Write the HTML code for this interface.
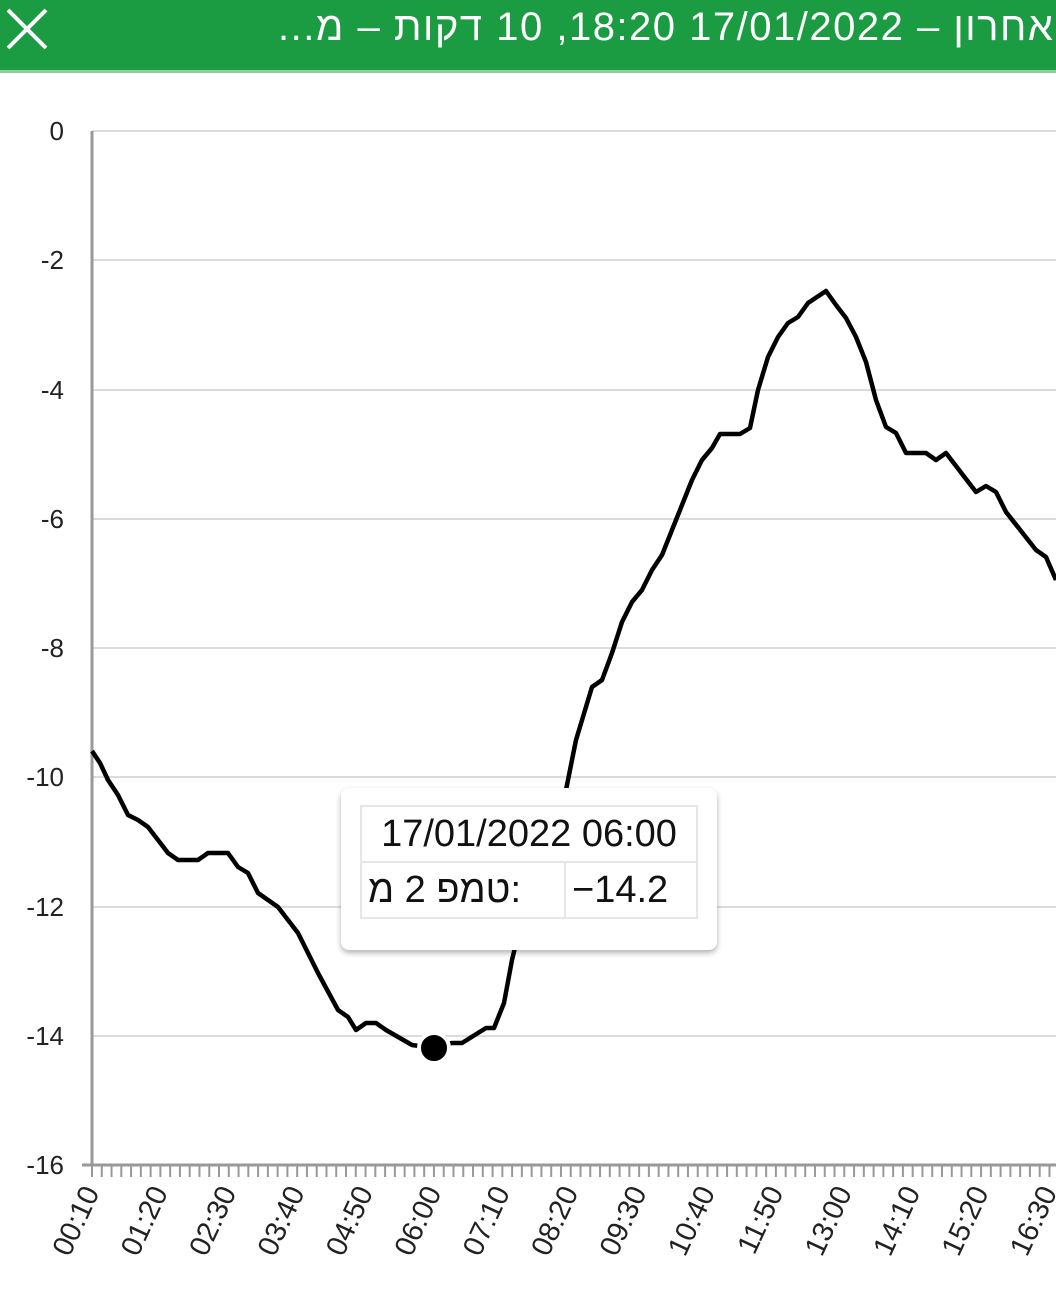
<!DOCTYPE html>
<html><head><meta charset="utf-8"><style>
body{margin:0;width:1056px;height:1313px;overflow:hidden;background:#fff;font-family:"Liberation Sans","DejaVu Sans",sans-serif}
.hdr{position:absolute;left:0;top:0;width:1056px;height:70px;background:#1b9b42;border-bottom:3px solid #8fd0a0;overflow:hidden}
.ttl{position:absolute;left:278px;top:5px;color:#fff;font-size:40px;letter-spacing:1.5px;white-space:nowrap;direction:ltr}
.ttl span{unicode-bidi:isolate}
.tip{position:absolute;left:341px;top:788px;width:376px;height:162px;background:#fff;border-radius:8px;box-shadow:0 3px 6px rgba(0,0,0,.3)}
table{position:absolute;left:19px;top:17px;border-collapse:collapse;font-size:38px;color:#111}
td{border:2px solid #e6e6e6;padding:0 6px;height:54px}
</style></head><body>
<div class="hdr">
<svg style="position:absolute;left:4px;top:6px" width="46" height="46"><path d="M4 4L42 42M42 4L4 42" stroke="#fff" stroke-width="4"/></svg>
<div class="ttl"><span>...</span><span>מ</span><span> – </span><span>דקות</span><span dir="ltr"> 10 ,18:20 17/01/2022 – </span><span>אחרון</span></div>
</div>
<svg width="1056" height="1313" style="position:absolute;left:0;top:0">
<g stroke="#dcdcdc" stroke-width="2">
<line x1="92" y1="131" x2="1056" y2="131"/><line x1="92" y1="260" x2="1056" y2="260"/><line x1="92" y1="390" x2="1056" y2="390"/><line x1="92" y1="519" x2="1056" y2="519"/><line x1="92" y1="648" x2="1056" y2="648"/><line x1="92" y1="777" x2="1056" y2="777"/><line x1="92" y1="907" x2="1056" y2="907"/><line x1="92" y1="1036" x2="1056" y2="1036"/>
</g>
<g stroke="#999" stroke-width="3"><line x1="92" y1="131" x2="92" y2="1165"/><line x1="82" y1="1165" x2="1056" y2="1165"/></g>
<g stroke="#999" stroke-width="2" id="tk"></g>
<g font-size="26" fill="#222" text-anchor="end">
<text x="64" y="140">0</text><text x="64" y="269">-2</text><text x="64" y="399">-4</text><text x="64" y="528">-6</text><text x="64" y="657">-8</text><text x="64" y="786">-10</text><text x="64" y="916">-12</text><text x="64" y="1045">-14</text><text x="64" y="1174">-16</text>
</g>
<g id="xl" font-size="29" fill="#222" text-anchor="end"></g>
<polyline fill="none" stroke="#000" stroke-width="4.5" stroke-linejoin="round" points="92,751 100,763 108,780 118,795 128,815 138,820 148,827 158,840 168,853 178,860 198,860 208,853 228,853 238,867 248,873 258,893 278,907 298,933 318,973 338,1010 348,1017 356,1030 366,1023 376,1023 386,1030 412,1045 434,1048 452,1043 462,1043 486,1028 494,1028 504,1003 512,960 524,910 545,850 566,790 576,740 592,687 602,680 612,653 622,622 632,602 642,590 652,570 662,555 672,530 682,505 692,480 702,460 712,448 720,434 740,434 750,428 758,390 768,357 778,337 788,323 798,317 808,303 826,291 836,305 846,318 856,337 866,362 876,400 886,427 896,433 906,453 926,453 936,460 946,453 976,492 986,486 996,492 1006,512 1036,550 1046,557 1056,580"/>
<circle cx="434" cy="1048" r="15" fill="#000" stroke="#fff" stroke-width="4"/>
</svg>
<div class="tip"><table><tr><td colspan="2" style="text-align:center">17/01/2022 06:00</td></tr><tr><td style="width:190px">טמפ 2 מ:</td><td style="width:118px">−14.2</td></tr></table></div>
<script>
var tk=document.getElementById('tk'),xl=document.getElementById('xl'),s='';
for(var i=0;i<100;i++){var x=92+i*9.77;if(x>1056)break;s+='<line x1="'+x+'" y1="1165" x2="'+x+'" y2="1177"/>';}
tk.innerHTML=s;
var L=['00:10','01:20','02:30','03:40','04:50','06:00','07:10','08:20','09:30','10:40','11:50','13:00','14:10','15:20','16:30'],t='';
for(var j=0;j<L.length;j++){var x=100+j*68.4;t+='<text transform="translate('+x+',1192) rotate(-65)">'+L[j]+'</text>';}
xl.innerHTML=t;
</script>
</body></html>
